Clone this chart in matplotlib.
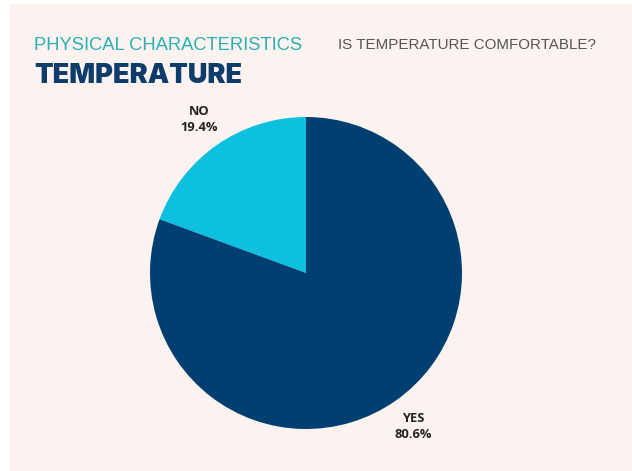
import matplotlib
matplotlib.use("Agg")
import matplotlib.pyplot as plt
from matplotlib.patches import Rectangle

labels = ["NO", "YES"]
values = [19.4, 80.6]
colors = ["#0DC0DF", "#003F70"]

W, H = 632, 471
fig = plt.figure(figsize=(W/100, H/100), dpi=100, facecolor="white")
fig.patches.append(Rectangle((10/W, 0), 1 - 10/W, 1 - 4/H, transform=fig.transFigure,
                             facecolor="#FCF2F0", edgecolor="none", zorder=-10))

r = 156
cx, cy = 306, 273
ax = fig.add_axes([(cx - r)/W, (H - cy - r)/H, 2*r/W, 2*r/H])
ax.set_facecolor("none")
texts = [f"{l}\n{v:.1f}%" for l, v in zip(labels, values)]
wedges, tx = ax.pie(values, labels=texts, colors=colors, startangle=90, counterclock=True,
                    labeldistance=1.2, radius=1.0,
                    textprops=dict(fontsize=9.3, fontweight="bold", color="#222222",
                                   ha="center", va="center", family="Open Sans",
                                   linespacing=1.3))
ax.set_xlim(-1, 1)
ax.set_ylim(-1, 1)
ax.set_aspect("equal")
ax.axis("off")

fig.text(34/W, 1 - 45/H, "PHYSICAL CHARACTERISTICS", color="#2AB0B3", fontsize=13.2,
         family="Liberation Sans", fontweight="light", va="center", ha="left")
fig.text(338/W, 1 - 45/H, "IS TEMPERATURE COMFORTABLE?", color="#555555", fontsize=10.9,
         family="Liberation Sans", va="center", ha="left")
fig.text(34/W, 1 - 76/H, "TEMPERATURE", color="#0E3D6B", fontsize=19.5,
         family="Inter", fontweight="black", va="center", ha="left")

fig.savefig("out.png", dpi=100, facecolor="white")
